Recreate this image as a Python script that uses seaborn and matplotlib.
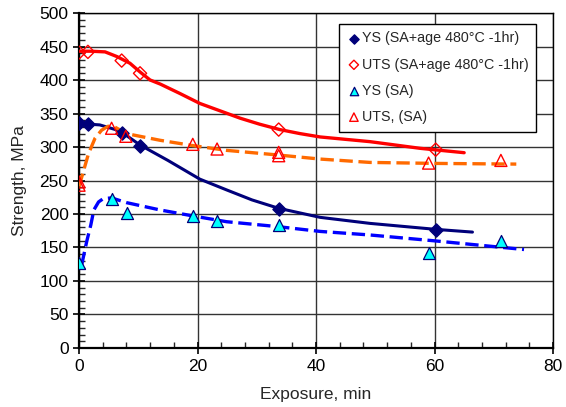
import matplotlib
matplotlib.use("Agg")
import matplotlib.pyplot as plt
from matplotlib.ticker import MultipleLocator
import seaborn as sns
import pandas as pd

# ---- measured points ----
ys_age_x = [0, 1.5, 7.2, 10.3, 33.7, 60.2]
ys_age_y = [336, 335, 321, 302, 208, 176]

uts_age_x = [0, 1.5, 7.2, 10.3, 33.7, 60.2]
uts_age_y = [441, 442, 429, 410, 326, 296]

ys_sa_x = [0, 5.6, 8.1, 19.3, 23.3, 33.7, 59.0, 71.2]
ys_sa_y = [127, 222, 201, 197, 190, 184, 142, 159]

uts_sa_x = [0, 0, 5.5, 7.9, 19.2, 23.3, 33.7, 33.7, 59.0, 71.2]
uts_sa_y = [243, 248, 328, 316, 304, 297, 292, 287, 276, 280]

# ---- trend curves ----
fit_uts_age_x = [0, 2, 4.4, 6.4, 8.6, 10.3, 12, 13.7, 17, 20.4, 23.8, 27.2, 30.5, 33.9, 37.3, 40.7, 49.1, 57.6, 65]
fit_uts_age_y = [443, 443, 442, 435, 425, 412, 400, 394, 380, 365, 354, 343, 334, 326, 320, 315, 308, 298, 291.5]

fit_ys_age_x = [0, 3.5, 6.9, 10.3, 15, 20.4, 24.9, 29.2, 33.7, 40.7, 49.1, 60.3, 66.4]
fit_ys_age_y = [335, 333, 324, 303, 280, 252, 236, 221, 208.5, 195, 186, 177, 173]

fit_uts_sa_x = [0, 1.6, 2.7, 3.8, 4.9, 6, 8, 13.7, 19.3, 24.9, 33.7, 40.7, 49.1, 60.3, 73.8]
fit_uts_sa_y = [241, 290, 313, 325, 331, 330, 320, 310, 302, 295, 288, 282, 277, 275.5, 274.5]

fit_ys_sa_x = [0.45, 1.3, 2, 2.5, 3.3, 4.1, 5.5, 8, 13.7, 19.3, 24.9, 33.7, 40.7, 49.1, 60.3, 75.1]
fit_ys_sa_y = [124, 159, 184, 206, 218, 223, 224, 217, 206, 197, 188.5, 181, 174, 168.7, 159.7, 147]

x_ticks = [0, 20, 40, 60, 80]
y_ticks = [0, 50, 100, 150, 200, 250, 300, 350, 400, 450, 500]

sns.set_style("white")
plt.rcParams['font.family'] = ['Liberation Sans', 'DejaVu Sans']

fig = plt.figure(figsize=(5.66, 4.07), dpi=100)
ax = fig.add_axes([0.1396, 0.145, 0.8375, 0.823])

navy = "#00007A"
red = "#FF0000"
orange = "#FF6A00"
blue = "#0000FF"
cyan = "#00FFFF"

sns.lineplot(x=fit_uts_age_x, y=fit_uts_age_y, ax=ax, color=red, lw=2.4, sort=False, zorder=3)
sns.lineplot(x=fit_ys_age_x, y=fit_ys_age_y, ax=ax, color=navy, lw=2.2, sort=False, zorder=3)
sns.lineplot(x=fit_uts_sa_x, y=fit_uts_sa_y, ax=ax, color=orange, lw=2.4, sort=False, zorder=3)
sns.lineplot(x=fit_ys_sa_x, y=fit_ys_sa_y, ax=ax, color=blue, lw=2.4, sort=False, zorder=3)
for ln in ax.lines[2:4]:
    ln.set_dashes([4, 1.7])

h1 = ax.scatter(ys_age_x, ys_age_y, marker="D", s=45, color=navy, edgecolor=navy, zorder=5,
                label="YS (SA+age 480°C -1hr)")
h2 = ax.scatter(uts_age_x, uts_age_y, marker="D", s=45, facecolor="none", edgecolor=red, lw=1.0, zorder=5,
                label="UTS (SA+age 480°C -1hr)")
h3 = ax.scatter(ys_sa_x, ys_sa_y, marker="^", s=75, color=cyan, edgecolor=navy, lw=0.9, zorder=5,
                label="YS (SA)")
h4 = ax.scatter(uts_sa_x, uts_sa_y, marker="^", s=75, facecolor="none", edgecolor=red, lw=1.0, zorder=5,
                label="UTS, (SA)")

ax.set_xlim(0, 80)
ax.set_ylim(0, 500)
ax.set_xticks(x_ticks)
ax.set_yticks(y_ticks)
ax.xaxis.set_minor_locator(MultipleLocator(4))
ax.yaxis.set_minor_locator(MultipleLocator(10))
ax.grid(True, which="major", color="#333333", lw=1.0, zorder=0)
ax.set_axisbelow(True)
for s in ax.spines.values():
    s.set_color("black")
    s.set_linewidth(1.0)
ax.spines["left"].set_linewidth(1.6)
ax.spines["bottom"].set_linewidth(1.6)
ax.tick_params(which="major", direction="inout", length=8, width=1.2, labelsize=12.5, colors="black",
               left=True, bottom=True)
ax.tick_params(which="minor", direction="in", length=4, width=1.0, left=True, bottom=True)
ax.tick_params(axis="x", pad=4)

ax.set_xlabel("Exposure, min", fontsize=12.5, labelpad=9)
ax.set_ylabel("Strength, MPa", fontsize=12.5, labelpad=9)

leg = ax.legend(handles=[h1, h2, h3, h4], loc="upper right", bbox_to_anchor=(0.98, 0.99),
                fontsize=10.3, frameon=True, fancybox=False, framealpha=1, edgecolor="black",
                handletextpad=0.05, handlelength=1.0, borderpad=0.55, labelspacing=0.85, markerscale=0.7)
leg.get_frame().set_linewidth(1.0)
leg.set_zorder(10)

fig.savefig("out.png", dpi=100)
